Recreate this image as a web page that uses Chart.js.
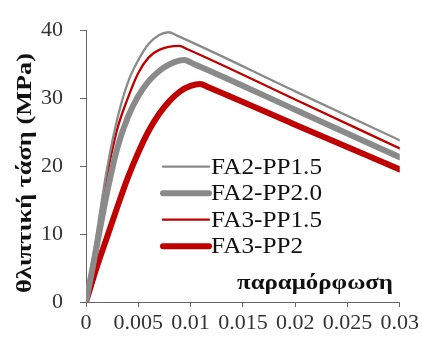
<!DOCTYPE html>
<html><head><meta charset="utf-8">
<script src="https://cdn.jsdelivr.net/npm/chart.js@4"></script>
<style>html,body{margin:0;padding:0;background:#fff;}canvas{display:block;}</style>
</head><body>
<canvas id="c" width="422" height="344"></canvas>
<script>
const seriesLabels = ['FA2-PP1.5','FA2-PP2.0','FA3-PP1.5','FA3-PP2'];
const strainFA2PP15 = [0,0.001,0.002,0.003,0.004,0.005,0.006,0.007,0.0079,0.0087,0.02,0.03];
const stressFA2PP15 = [0,9.8,19.5,27,32.3,35.6,38,39.3,39.7,39.2,31.0,23.8];
const strainFA2PP20 = [0,0.001,0.002,0.003,0.004,0.005,0.006,0.007,0.008,0.0094,0.0102,0.02,0.03];
const stressFA2PP20 = [0,8,16,22.7,27.2,30.3,32.5,34,35,35.6,35.1,28.3,21.3];
const strainFA3PP15 = [0,0.001,0.002,0.003,0.004,0.005,0.006,0.007,0.0089,0.0097,0.02,0.03];
const stressFA3PP15 = [0,9,18.5,25.5,30,33.7,36,37.1,37.7,37.2,29.8,22.6];
const strainFA3PP2 = [0,0.001,0.002,0.003,0.004,0.005,0.006,0.007,0.008,0.009,0.010,0.0109,0.0117,0.02,0.03];
const stressFA3PP2 = [0,5,9.5,14,18.3,22,25.2,27.7,29.6,31,31.8,32.1,31.6,26.1,19.5];
const xTicks = [0,0.005,0.01,0.015,0.02,0.025,0.03];
const yTicks = [0,10,20,30,40];
const yTitle = 'θλιπτική τάση (MPa)';
const xTitle = 'παραμόρφωση';

const GRAY = '#8a8a8a', RED = '#c00000';
function pts(xs, ys){ return xs.map((x,i)=>({x:x,y:ys[i]})); }
const styles = [
  {color:GRAY, w:2.3},
  {color:GRAY, w:6},
  {color:RED, w:2.3},
  {color:RED, w:6}
];
const raw = [[strainFA2PP15,stressFA2PP15],[strainFA2PP20,stressFA2PP20],[strainFA3PP15,stressFA3PP15],[strainFA3PP2,stressFA3PP2]];
const datasets = raw.map((r,i)=>({
  label: seriesLabels[i],
  data: pts(r[0], r[1]),
  borderColor: styles[i].color,
  backgroundColor: styles[i].color,
  borderWidth: styles[i].w,
  pointRadius: 0,
  fill: false,
  cubicInterpolationMode: 'monotone',
  borderCapStyle: 'round',
  borderJoinStyle: 'round'
}));

const serif = '"Liberation Serif", "Times New Roman", serif';
function fittedText(ctx, text, x, y, targetW, align){
  const w = ctx.measureText(text).width;
  const s = targetW / w;
  ctx.save();
  ctx.translate(x, y);
  ctx.scale(s, 1);
  ctx.textAlign = align;
  ctx.fillText(text, 0, 0);
  ctx.restore();
}
const overlay = {
  id: 'overlay',
  afterDraw(chart){
    const ctx = chart.ctx;
    ctx.save();
    ctx.fillStyle = '#111';
    ctx.font = 'bold 22px ' + serif;
    ctx.textBaseline = 'middle';
    ctx.translate(25, 173);
    ctx.rotate(-Math.PI/2);
    fittedText(ctx, yTitle, 0, 0, 240, 'center');
    ctx.restore();

    ctx.save();
    ctx.fillStyle = '#111';
    ctx.font = 'bold 22px ' + serif;
    ctx.textBaseline = 'middle';
    fittedText(ctx, xTitle, 393, 283, 156, 'right');
    ctx.restore();

    ctx.save();
    ctx.font = '23px ' + serif;
    const s = 111 / ctx.measureText(seriesLabels[0]).width;
    chart.data.datasets.forEach((ds,i)=>{
      const y = 166.7 + i*26.5;
      ctx.strokeStyle = ds.borderColor;
      ctx.lineWidth = ds.borderWidth;
      ctx.lineCap = 'round';
      ctx.beginPath();
      ctx.moveTo(163, y);
      ctx.lineTo(209, y);
      ctx.stroke();
      ctx.fillStyle = '#111';
      ctx.textBaseline = 'middle';
      const w = ctx.measureText(ds.label).width * s;
      fittedText(ctx, ds.label, 211, y + 1, w, 'left');
    });
    ctx.restore();
  }
};

new Chart(document.getElementById('c'), {
  type: 'line',
  data: { datasets: datasets },
  options: {
    responsive: false,
    animation: false,
    layout: { padding: { top: 19, right: 22, left: 0, bottom: 0 } },
    plugins: { legend: { display: false }, tooltip: { enabled: false } },
    scales: {
      x: {
        type: 'linear', min: 0, max: 0.03,
        afterBuildTicks(s){ s.ticks = xTicks.map(v=>({value:v})); },
        afterFit(s){ s.height = 42; },
        grid: { drawOnChartArea: false, drawTicks: true, tickLength: 5, color: '#666' },
        border: { color: '#666', width: 1 },
        ticks: { color: '#333', font: { family: serif, size: 22 }, padding: 3, maxRotation: 0, minRotation: 0,
          autoSkip: false, callback: v => String(v) }
      },
      y: {
        type: 'linear', min: 0, max: 40,
        afterBuildTicks(s){ s.ticks = yTicks.map(v=>({value:v})); },
        afterFit(s){ s.width = 86; },
        grid: { drawOnChartArea: false, drawTicks: true, tickLength: 6, color: '#666' },
        border: { color: '#666', width: 1 },
        ticks: { color: '#333', font: { family: serif, size: 22 }, padding: 17 }
      }
    }
  },
  plugins: [overlay]
});
</script>
</body></html>
